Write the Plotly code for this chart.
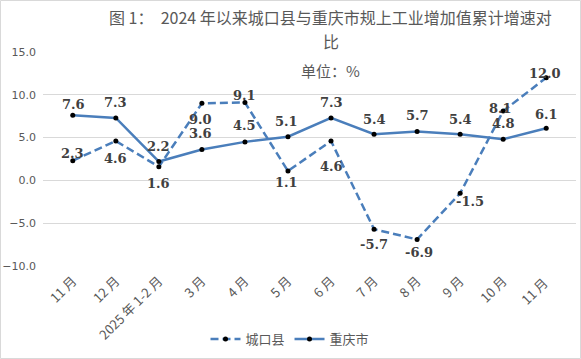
import plotly.graph_objects as go

categories = ["11 月", "12 月", "2025 年 1-2 月", "3 月", "4 月", "5 月", "6 月",
              "7 月", "8 月", "9 月", "10 月", "11 月 "]
chengkou = [2.3, 4.6, 1.6, 9.0, 9.1, 1.1, 4.6, -5.7, -6.9, -1.5, 8.1, 12.0]
chongqing = [7.6, 7.3, 2.2, 3.6, 4.5, 5.1, 7.3, 5.4, 5.7, 5.4, 4.8, 6.1]
y_ticks = [-10, -5, 0, 5, 10, 15]

# label offsets (px): (dx, dy down)
ck_off = [(0, -7), (0, 17), (0, 17), (-1, 16), (0, -7), (-1, 12), (0, 25),
          (0, 15), (2, 13), (10, 8), (-3, -3), (-1, -4)]
cq_off = [(1, -11), (0, -15), (0, -15), (-1, -16), (0, -16), (-1, -15), (0, -15),
          (0, -15), (0, -16), (0, -15), (0, -16), (0, -14)]

BLUE = "#4a7ebb"
GRAY = "#595959"

fig = go.Figure()
fig.add_trace(go.Scatter(
    x=categories, y=chengkou, name="城口县", mode="lines+markers",
    line=dict(color=BLUE, width=2.5, dash="8px,4px"),
    marker=dict(color="black", size=5, symbol="circle"),
))
fig.add_trace(go.Scatter(
    x=categories, y=chongqing, name="重庆市", mode="lines+markers",
    line=dict(color=BLUE, width=2.5),
    marker=dict(color="black", size=5, symbol="circle"),
))

anns = []
for vals, offs in ((chengkou, ck_off), (chongqing, cq_off)):
    for c, v, (dx, dy) in zip(categories, vals, offs):
        anns.append(dict(x=c, y=v, xref="x", yref="y", text=f"{v:.1f}",
                         showarrow=False, xanchor="center", yanchor="middle",
                         xshift=dx, yshift=-dy,
                         font=dict(family="DejaVu Serif", size=13, color="#404040",
                                   weight="bold")))

L, R, T, B = 43, 5, 52, 93
W, H = 581, 359
pw, ph = W - L - R, H - T - B


def px(x):
    return (x - L) / pw


def py(y):
    return (H - B - y) / ph


title_font = dict(family="Noto Sans CJK SC", size=16, color=GRAY)
anns.append(dict(x=px(330), y=py(17.5), xref="paper", yref="paper", showarrow=False,
                 text="图 1：  2024 年以来城口县与重庆市规上工业增加值累计增速对",
                 xanchor="center", yanchor="middle", font=title_font))
anns.append(dict(x=px(331), y=py(41.5), xref="paper", yref="paper", showarrow=False,
                 text="比", xanchor="center", yanchor="middle", font=title_font))
anns.append(dict(x=px(330), y=py(70), xref="paper", yref="paper", showarrow=False,
                 text="单位：%", xanchor="center", yanchor="middle",
                 font=dict(family="Noto Sans CJK SC", size=15, color=GRAY)))

fig.update_layout(
    width=W, height=H,
    margin=dict(l=L, r=R, t=T, b=B, autoexpand=False),
    paper_bgcolor="white", plot_bgcolor="white",
    showlegend=True,
    legend=dict(orientation="h", x=px(290), y=py(339), xanchor="center",
                yanchor="middle", font=dict(family="Noto Sans CJK SC", size=13,
                                             color=GRAY),
                bgcolor="rgba(0,0,0,0)"),
    annotations=anns,
    shapes=[dict(type="rect", xref="paper", yref="paper",
                 x0=px(0.5), x1=px(580.5), y0=py(358.5), y1=py(0.5),
                 line=dict(color="#d9d9d9", width=1))],
)
fig.update_xaxes(
    type="category", showgrid=False, zeroline=False, showline=False,
    tickangle=-45, ticks="", automargin=False, ticklabelstandoff=4,
    tickfont=dict(family="Noto Sans CJK SC", size=13, color=GRAY),
)
fig.update_yaxes(
    range=[-10, 15], tickvals=y_ticks, tickformat=".1f",
    showgrid=True, gridcolor="#d9d9d9", gridwidth=1, zeroline=False,
    showline=False, ticks="", ticklabelstandoff=6, automargin=False,
    tickfont=dict(family="DejaVu Sans", size=11, color=GRAY),
)

fig.write_html("out.html", config={"displayModeBar": False},
               post_script="document.body.style.margin='0';document.body.style.overflow='hidden';")
